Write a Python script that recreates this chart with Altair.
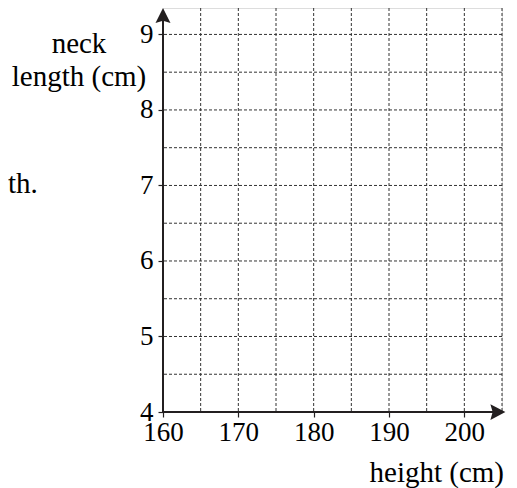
import altair as alt
import pandas as pd

# ---- data ----
x_ticks = [160, 170, 180, 190, 200]
y_ticks = [4, 5, 6, 7, 8, 9]
x_grid = [165, 170, 175, 180, 185, 190, 195, 200, 205]
y_grid = [4.5, 5, 5.5, 6, 6.5, 7, 7.5, 8, 8.5, 9]
x_min, x_max, x_arrow = 160, 205, 205.45
y_min, y_max = 4, 9.35
x_title = "height (cm)"
y_title = ["neck", "length (cm)"]
side_text = "th."

FONT = "Liberation Serif"
FS = 27
TFS = 29
INK = "#231f20"

xs = alt.Scale(domain=[x_min, x_max], nice=False, zero=False)
ys = alt.Scale(domain=[y_min, y_max], nice=False, zero=False)

x_axis = alt.Axis(
    values=x_ticks, grid=False, domain=False, ticks=True, tickSize=5,
    tickColor=INK, tickWidth=1.2, labelFont=FONT, labelFontSize=FS,
    labelColor="black", labelPadding=2, title=None, labelFlush=False)
y_axis = alt.Axis(
    values=y_ticks, grid=False, domain=False, ticks=True, tickSize=5,
    tickColor=INK, tickWidth=1.2, labelFont=FONT, labelFontSize=FS,
    labelColor="black", labelPadding=5, title=None, labelFlush=False)


def X(f):
    return alt.X(f, scale=xs, axis=x_axis)


def Y(f):
    return alt.Y(f, scale=ys, axis=y_axis)


# vertical grid lines
vgrid = alt.Chart(pd.DataFrame({"x": x_grid})).mark_rule(
    color="#333333", strokeWidth=1, strokeDash=[3, 2]
).encode(x=X("x:Q"))

# horizontal grid lines
hgrid = alt.Chart(pd.DataFrame({"y": y_grid})).mark_rule(
    color="#333333", strokeWidth=1, strokeDash=[3, 2]
).encode(y=Y("y:Q"))

# axis lines
xaxis_line = alt.Chart(pd.DataFrame({"x": [x_min], "x2": [x_arrow - 1], "y": [y_min]})).mark_rule(
    color=INK, strokeWidth=2
).encode(x=X("x:Q"), x2="x2:Q", y=Y("y:Q"))

yaxis_line = alt.Chart(pd.DataFrame({"x": [x_min], "y": [y_min], "y2": [y_max - 0.05]})).mark_rule(
    color=INK, strokeWidth=2
).encode(x=X("x:Q"), y=Y("y:Q"), y2="y2:Q")

# arrowheads
right_arrow = alt.Chart(pd.DataFrame({"x": [x_arrow], "y": [y_min]})).mark_point(
    shape="M0,0 L-2,-1.05 L-1.7,0 L-2,1.05 Z", filled=True, color=INK, opacity=1, size=225
).encode(x=X("x:Q"), y=Y("y:Q"))

up_arrow = alt.Chart(pd.DataFrame({"x": [x_min], "y": [y_max]})).mark_point(
    shape="M0,0 L-1,2 L0,1.7 L1,2 Z", filled=True, color=INK, opacity=1, size=225
).encode(x=X("x:Q"), y=Y("y:Q"))

# titles (placed in pixel space relative to plot origin)
ytitle = alt.Chart(pd.DataFrame({"t": y_title, "px": [-84, -84], "py": [45, 78]})).mark_text(
    font=FONT, fontSize=TFS, color="black", align="center", baseline="alphabetic"
).encode(x=alt.X("px:Q", scale=None), y=alt.Y("py:Q", scale=None), text="t:N")

xtitle = alt.Chart(pd.DataFrame({"t": [x_title], "px": [341], "py": [474]})).mark_text(
    font=FONT, fontSize=TFS, color="black", align="right", baseline="alphabetic"
).encode(x=alt.X("px:Q", scale=None), y=alt.Y("py:Q", scale=None), text="t:N")

side = alt.Chart(pd.DataFrame({"t": [side_text], "px": [-155], "py": [185]})).mark_text(
    font=FONT, fontSize=TFS, color="black", align="left", baseline="alphabetic"
).encode(x=alt.X("px:Q", scale=None), y=alt.Y("py:Q", scale=None), text="t:N")

chart = alt.layer(
    vgrid, hgrid, xaxis_line, yaxis_line, right_arrow, up_arrow, ytitle, xtitle, side
).properties(
    width=339, height=404,
    padding={"left": 155, "top": 0, "right": 5, "bottom": 76},
    autosize=alt.AutoSizeParams(type="none"),
).configure_view(stroke=None).configure(background="white")

chart.save("out.html", embed_options={"renderer": "svg", "actions": False})
